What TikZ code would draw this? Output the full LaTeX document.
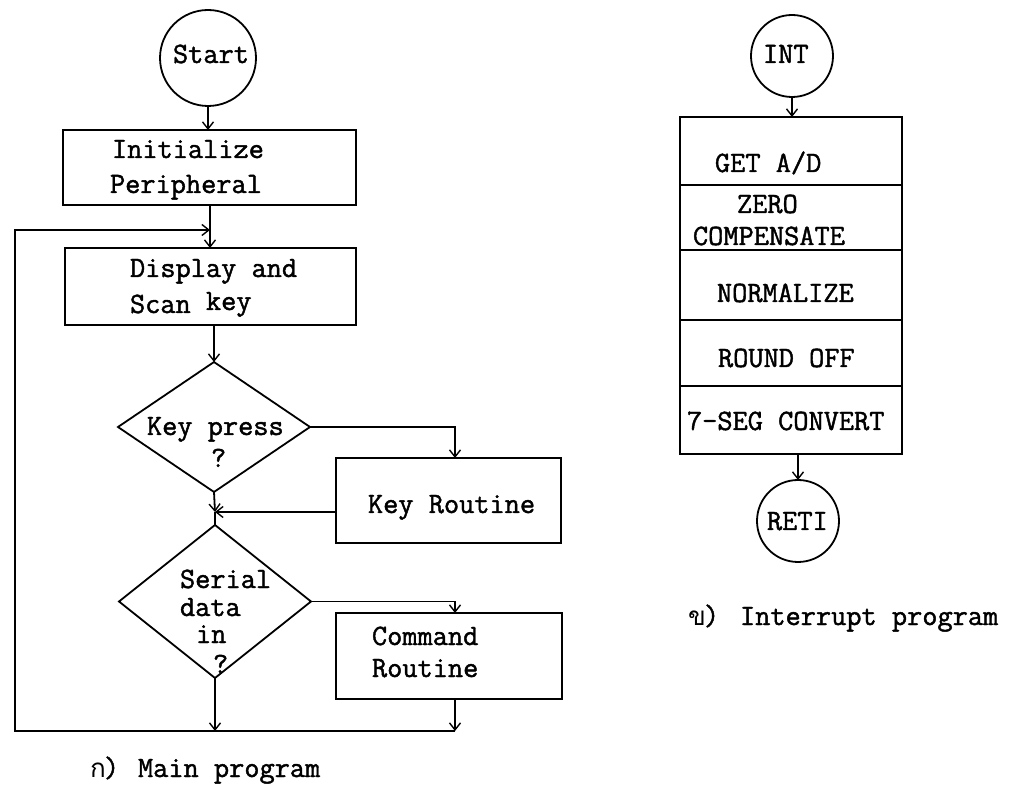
\documentclass[tikz,border=0pt]{standalone}
\usepackage{fontspec}
\setmonofont{Latin Modern Mono}[FakeBold=1.5]
\newfontfamily\thaifont[Script=Thai]{Loma}
\usetikzlibrary{arrows.meta,shapes.geometric}

\begin{document}
\begin{tikzpicture}[x=1pt,y=-1pt,
  line width=1.8pt,
  every node/.style={inner sep=0pt,outer sep=0pt},
  arr/.style={-{Straight Barb[length=7pt,width=11pt,line width=1.4pt]}},
  txt/.style={anchor=base west,font=\ttfamily\fontsize{29.5}{33}\selectfont},
  thai/.style={anchor=base west,font=\thaifont\fontsize{26}{33}\selectfont},
  terminal/.style={draw,circle,minimum size=#1},
  stepbox/.style 2 args={draw,rectangle,minimum width=#1,minimum height=#2},
  decision/.style 2 args={draw,diamond,minimum width=#1,minimum height=#2}
]
\useasboundingbox (0,0) rectangle (1013,791);

% ---------- main program: shapes ----------
\node[terminal=96pt] (start) at (208,58) {};
\node[stepbox={293pt}{75pt}] (init) at (209.5,167.5) {};
\node[stepbox={291pt}{77pt}] (disp) at (210.5,286.5) {};
\node[decision={192pt}{130pt}] (key) at (214,427) {};
\node[stepbox={225pt}{85pt}] (kroute) at (448.5,500.5) {};
\node[decision={192pt}{153pt}] (serial) at (215,601.5) {};
\node[stepbox={226pt}{86pt}] (cmd) at (449,656) {};

% ---------- main program: texts ----------
\node[txt] (tstart) at (173,63) {Start};
\node[txt] (tinit1) at (112,158) {Initialize};
\node[txt] (tinit2) at (110,193) {Peripheral};
\node[txt] (tdisp1) at (130,277) {Display and};
\node[txt] (tdisp2) at (130,313) {Scan \raisebox{3pt}{key}};
\node[txt] (tkey1) at (147,435) {Key press};
\node[txt] (tkey2) at (211,467) {?};
\node[txt] (tser1) at (180,588) {Serial};
\node[txt] (tser2) at (180,616) {data};
\node[txt] (tser3) at (196,643) {in};
\node[txt] (tser4) at (213,673) {?};
\node[txt] (tkr) at (368,513) {Key Routine};
\node[txt] (tcmd1) at (372,645) {Command};
\node[txt] (tcmd2) at (372,677) {Routine};

% ---------- main program: junctions ----------
\coordinate (jtop) at (210,230);
\coordinate (jmid) at (215,512);
\coordinate (kx) at (455,0);
\coordinate (loopL) at (15,731);
\coordinate (loopT) at (15,230);

% ---------- main program: connectors ----------
\draw[arr] (start.south) -- (start.south |- init.north);
\draw (init.south -| jtop) -- (jtop);
\draw[arr] (jtop) -- (jtop |- disp.north);
\draw[arr] (disp.south -| key.north) -- (key.north);
\draw[arr] (key.east) -| (kroute.north -| kx);
\draw[arr] (jmid -| kroute.west) -- (jmid);
\draw[arr] (key.south) -- (jmid);
\draw (jmid) -- (serial.north);
\draw[arr] (serial.east) -| (cmd.north -| kx);
\draw[arr] (serial.south) -- (serial.south |- loopL);
\draw[arr] (cmd.south -| kx) -- (loopL -| kx);
\draw[arr] (loopL -| kx) -- (loopL) -- (loopT) -- (jtop);

% ---------- interrupt program ----------
\node[terminal=82pt] (int) at (792,56) {};
\node[stepbox={222pt}{68pt}] (get) at (791,151) {};
\node[stepbox={222pt}{65pt}] (zero) at (791,217.5) {};
\node[stepbox={222pt}{70pt}] (norm) at (791,285) {};
\node[stepbox={222pt}{66pt}] (round) at (791,353) {};
\node[stepbox={222pt}{68pt}] (seg) at (791,420) {};
\node[terminal=82pt] (reti) at (798,521) {};

\node[txt] (tint) at (763,63) {INT};
\node[txt] (tget) at (715,172) {GET A/D};
\node[txt] (tzero1) at (737,213) {ZERO};
\node[txt] (tzero2) at (693,245) {COMPENSATE};
\node[txt] (tnorm) at (717,302) {NORMALIZE};
\node[txt] (tround) at (718,367) {ROUND OFF};
\node[txt] (tseg) at (687,430) {7-SEG CONVERT};
\node[txt] (treti) at (767,530) {RETI};

\draw[arr] (int.south) -- (int.south |- get.north);
\draw[arr] (reti.north |- seg.south) -- (reti.north);

% ---------- captions ----------
\node[thai] (capa) at (90,777) {ก};
\node[txt] (capa2) at (104,777) {)};
\node[txt] (capa3) at (138,777) {Main program};
\node[thai] (capb) at (688,625) {ข};
\node[txt] (capb2) at (704,625) {)};
\node[txt] (capb3) at (740,625) {Interrupt program};
\end{tikzpicture}
\end{document}
